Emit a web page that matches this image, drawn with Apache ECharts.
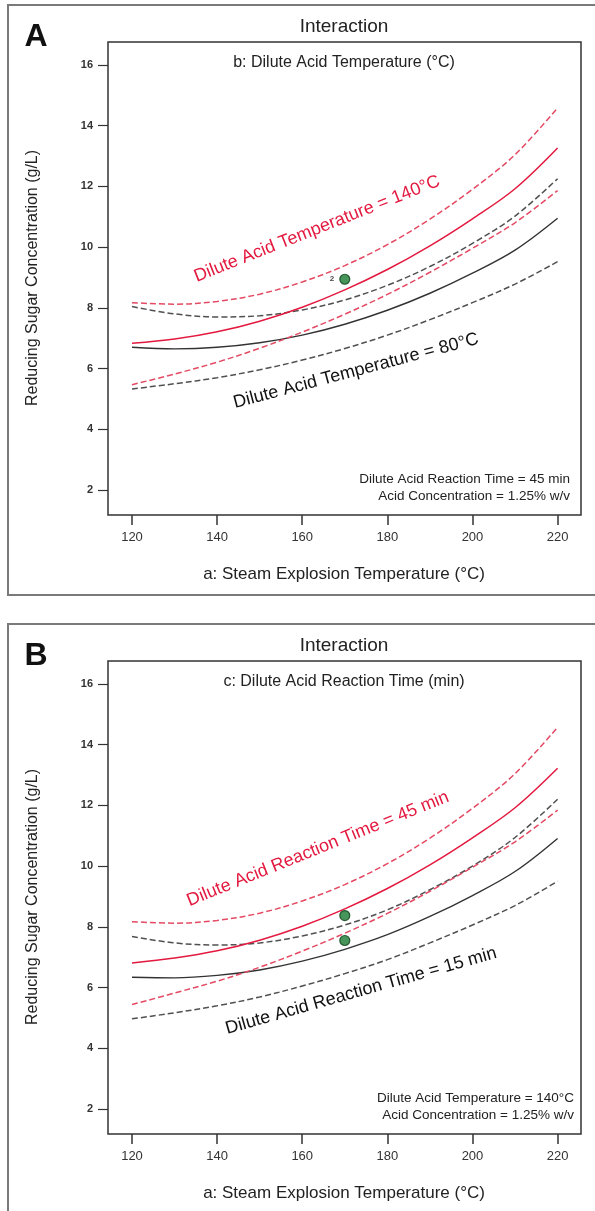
<!DOCTYPE html>
<html><head><meta charset="utf-8">
<script src="https://cdn.jsdelivr.net/npm/echarts@6/dist/echarts.min.js"></script>
<style>html,body{margin:0;padding:0;background:#fff}#c{width:595px;height:1211px}</style>
</head><body><div id="c"></div>
<script>
// ---- data ----
const steamTemp = [120,130,140,150,160,170,180,190,200,210,220];
const xTicks = [120,140,160,180,200,220];
const yTicks = [2,4,6,8,10,12,14,16];

// Panel A : b = Dilute Acid Temperature
const a140Mean  = [6.83,6.97,7.21,7.56,8.02,8.59,9.26,10.04,10.93,11.92,13.26];
const a140Upper = [8.17,8.12,8.21,8.45,8.85,9.39,10.08,10.92,11.90,13.04,14.58];
const a140Lower = [5.47,5.82,6.21,6.67,7.20,7.79,8.44,9.17,9.96,10.80,11.86];
const a80Mean   = [6.70,6.65,6.70,6.85,7.10,7.46,7.92,8.48,9.14,9.90,10.95];
const a80Upper  = [8.04,7.80,7.70,7.74,7.93,8.26,8.74,9.36,10.12,11.02,12.25];
const a80Lower  = [5.33,5.50,5.70,5.96,6.28,6.66,7.10,7.61,8.17,8.78,9.52];
const aPoints   = [[170, 8.94]];

// Panel B : c = Dilute Acid Reaction Time
const b45Mean   = [6.81,6.97,7.21,7.56,8.02,8.59,9.26,10.04,10.93,11.92,13.22];
const b45Upper  = [8.17,8.12,8.21,8.45,8.85,9.39,10.08,10.92,11.90,13.04,14.57];
const b45Lower  = [5.44,5.82,6.21,6.67,7.20,7.79,8.44,9.17,9.96,10.80,11.84];
const b15Mean   = [6.34,6.32,6.40,6.58,6.87,7.26,7.74,8.34,9.03,9.82,10.91];
const b15Upper  = [7.68,7.47,7.40,7.47,7.70,8.06,8.56,9.22,10.00,10.94,12.20];
const b15Lower  = [4.97,5.17,5.40,5.69,6.05,6.46,6.92,7.47,8.06,8.70,9.50];
const bPoints   = [[170, 8.37], [170, 7.55]];

// ---- styling / layout ----
const FONT = '"Liberation Sans", Arial, sans-serif';
const RED = '#e3193f', RED_D = '#e44a63', BLK = '#333333', BLK_D = '#505050';
const OFF = 619; // vertical offset of panel B

function pairs(ys){ return steamTemp.map((x,i)=>[x, ys[i]]); }
function grid(top){ return {left:108, top:top, width:473, height:473, show:true, borderColor:'#333', borderWidth:1.5, backgroundColor:'rgba(0,0,0,0)'}; }
function xAx(i){ return {type:'value', gridIndex:i, min:114.36, max:225.5,
  axisLine:{show:false}, splitLine:{show:false},
  axisTick:{show:true, customValues:xTicks, length:10, lineStyle:{color:'#333', width:1.5}},
  axisLabel:{customValues:xTicks, margin:16, fontSize:13, color:'#333', fontFamily:FONT}}; }
function yAx(i){ return {type:'value', gridIndex:i, min:1.18, max:16.75,
  axisLine:{show:false}, splitLine:{show:false},
  axisTick:{show:true, customValues:yTicks, length:10, lineStyle:{color:'#333', width:1.2}},
  axisLabel:{customValues:yTicks, margin:15, fontSize:11, fontWeight:'bold', color:'#333', fontFamily:FONT}}; }
function line(ys, idx, color, dashed, width, z){ return {type:'line', xAxisIndex:idx, yAxisIndex:idx, data:pairs(ys),
  smooth:0.35, showSymbol:false, symbol:'none', silent:true, z:z,
  lineStyle:{color:color, width:width, type: dashed ? [6,3] : 'solid'}}; }
function pts(data, idx, showLabel){ return {type:'scatter', xAxisIndex:idx, yAxisIndex:idx, data:data, symbolSize:10, z:10,
  itemStyle:{color:'#1a7a32', borderColor:'#0a3d16', borderWidth:1.2},
  label:{show:showLabel, position:'left', distance:5, formatter:'2', fontSize:8, fontWeight:'bold', color:'#111', fontFamily:FONT}}; }

function txt(x, y, text, size, color, opts){ opts = opts || {};
  return {type:'text', x:x, y:y, rotation:(opts.rot||0)*Math.PI/180, z:20,
    style:{text:text, fill:color, font:(opts.weight||'normal')+' '+size+'px '+FONT,
      textAlign:opts.align||'center', textVerticalAlign:'middle'}}; }

function panelGraphics(dy, letter, sub, note1, note2, redLbl, redPos, blkLbl, blkPos, noteX){
  return [
    {type:'rect', shape:{x:8, y:5+dy, width:600, height:590}, style:{fill:'none', stroke:'#7a7a7a', lineWidth:2}, z:1},
    txt(36, 37+dy, letter, 32, '#111', {weight:'bold'}),
    txt(344, 27+dy, 'Interaction', 19, '#222'),
    txt(344, 63+dy, sub, 16, '#222'),
    txt(33, 278+dy, 'Reducing Sugar Concentration (g/L)', 16, '#222', {rot:90}),
    txt(344, 574+dy, 'a: Steam Explosion Temperature (°C)', 17, '#222'),
    txt(noteX, 479+dy, note1, 13.5, '#222', {align:'right'}),
    txt(noteX, 496+dy, note2, 13.5, '#222', {align:'right'}),
    txt(redPos[0], redPos[1]+dy, redLbl, 18, RED, {rot:redPos[2]}),
    txt(blkPos[0], blkPos[1]+dy, blkLbl, 18, '#111', {rot:blkPos[2]})
  ];
}

const chart = echarts.init(document.getElementById('c'), null, {renderer:'canvas'});
chart.setOption({
  animation:false,
  backgroundColor:'#fff',
  grid:[grid(42), grid(42+OFF)],
  xAxis:[xAx(0), xAx(1)],
  yAxis:[yAx(0), yAx(1)],
  series:[
    line(a80Upper, 0, BLK_D, true, 1.5, 2),
    line(a80Lower, 0, BLK_D, true, 1.5, 2),
    line(a80Mean, 0, BLK, false, 1.4, 3),
    line(a140Upper, 0, RED_D, true, 1.5, 4),
    line(a140Lower, 0, RED_D, true, 1.5, 4),
    line(a140Mean, 0, RED, false, 1.5, 5),
    pts(aPoints, 0, true),
    line(b15Upper, 1, BLK_D, true, 1.5, 2),
    line(b15Lower, 1, BLK_D, true, 1.5, 2),
    line(b15Mean, 1, BLK, false, 1.4, 3),
    line(b45Upper, 1, RED_D, true, 1.5, 4),
    line(b45Lower, 1, RED_D, true, 1.5, 4),
    line(b45Mean, 1, RED, false, 1.5, 5),
    pts(bPoints, 1, false)
  ],
  graphic:{elements:[].concat(
    panelGraphics(0, 'A', 'b: Dilute Acid Temperature (°C)',
      'Dilute Acid Reaction Time = 45 min', 'Acid Concentration = 1.25% w/v',
      'Dilute Acid Temperature = 140°C', [317, 229, 21.6],
      'Dilute Acid Temperature = 80°C', [356, 371, 14.8], 570),
    panelGraphics(OFF, 'B', 'c: Dilute Acid Reaction Time (min)',
      'Dilute Acid Temperature = 140°C', 'Acid Concentration = 1.25% w/v',
      'Dilute Acid Reaction Time = 45 min', [318, 230, 22],
      'Dilute Acid Reaction Time = 15 min', [361, 372, 15.8], 574)
  )}
});
</script></body></html>
